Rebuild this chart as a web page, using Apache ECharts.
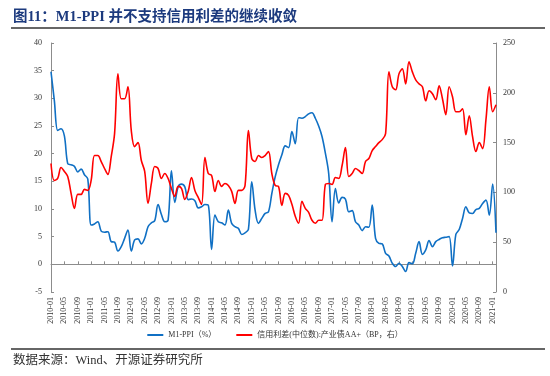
<!DOCTYPE html>
<html>
<head>
<meta charset="utf-8">
<script src="https://cdn.jsdelivr.net/npm/echarts@6/dist/echarts.min.js"></script>
<style>
  html, body {margin: 0; padding: 0; background: #fff;}
  #chart {width: 550px; height: 376px;}
</style>
</head>
<body>
<div id="chart"></div>
<script>
// months 2010-01 .. 2021-02
const months = [];
for (let y = 2010; y <= 2021; y++) {
  for (let m = 1; m <= 12; m++) {
    if (y === 2021 && m > 2) break;
    months.push(y + '-' + (m < 10 ? '0' + m : m));
  }
}

// M1-PPI (%), left axis
const m1ppi = [
  34.8, 29.6, 24.2, 24.5, 23.2, 18.2, 18.0, 17.7, 16.7, 17.2, 16.2, 15.4,
  7.1, 7.3, 7.7, 6.0, 5.8, 5.9, 4.1, 4.0, 2.4, 3.2, 4.7, 6.2,
  2.4, 4.4, 4.6, 3.7, 4.7, 6.8, 7.5, 7.9, 10.8, 9.0, 7.7, 8.0,
  16.9, 11.2, 14.0, 14.5, 14.0, 11.7, 11.8, 11.5, 10.2, 10.4, 10.8, 10.7,
  2.7, 8.9, 7.7, 7.5, 7.1, 9.8, 7.4, 6.8, 6.5, 5.4, 5.7, 6.3,
  14.9, 9.8, 7.4, 8.3, 9.2, 9.5, 12.8, 15.8, 18.0, 19.8, 21.4, 21.1,
  24.0, 21.8, 26.5, 26.4, 26.7, 27.2, 27.4, 26.4, 25.0, 23.1, 20.1, 16.4,
  7.7, 13.7, 11.1, 12.1, 11.8, 9.5, 9.7, 7.7, 7.1, 6.1, 6.8, 6.7,
  10.7, 4.7, 3.8, 3.7, 2.0, 1.5, 0.2, -0.4, 0.2, -0.4, -1.3, 0.3,
  0.1, 2.0, 4.1, 1.8, 2.6, 4.3, 3.2, 4.1, 4.5, 4.8, 4.9, 5.0,
  -0.3, 5.4, 6.3, 8.3, 10.4, 9.3, 9.2, 9.9, 10.1, 11.0, 11.6, 8.9,
  14.5, 5.7
];

// 信用利差(中位数):产业债AA+ (BP), right axis
const spread = [
  129, 112, 114, 125, 121, 116, 99, 84, 98, 98, 103, 102,
  112, 137, 137, 131, 124, 118, 136, 159, 219, 194, 194, 206,
  162, 146, 150, 132, 121, 89, 109, 126, 124, 114, 119, 114,
  104, 96, 106, 104, 93, 101, 115, 102, 95, 88, 135, 119,
  117, 101, 112, 106, 109, 107, 101, 89, 102, 102, 107, 162,
  134, 131, 137, 135, 137, 141, 119, 107, 106, 87, 99, 97,
  88, 76, 69, 91, 84, 80, 72, 69, 72, 72, 108, 109,
  108, 115, 114, 127, 145, 116, 119, 124, 122, 119, 131, 134,
  142, 146, 150, 153, 159, 221, 206, 203, 219, 224, 209, 231,
  221, 213, 209, 206, 192, 202, 199, 193, 207, 194, 178, 206,
  196, 181, 181, 184, 158, 177, 156, 141, 150, 144, 173, 206,
  181, 188
];

const leftTicks = {min: -5, max: 40, interval: 5};
const rightTicks = {min: 0, max: 250, interval: 50};

const serif = "'Liberation Serif', 'Times New Roman', 'Noto Sans CJK SC', serif";
const axisGray = '#8c8c8c';
const textGray = '#333';

const chart = echarts.init(document.getElementById('chart'));
chart.setOption({
  animation: false,
  title: {
    text: '图11：M1-PPI 并不支持信用利差的继续收敛',
    left: 8,
    top: 5,
    textStyle: {color: '#1c3a7e', fontSize: 14.5, fontWeight: 'bold', fontFamily: serif}
  },
  graphic: [
    {type: 'line', shape: {x1: 11, y1: 28, x2: 545, y2: 28}, style: {stroke: '#333', lineWidth: 1.5}},
    {type: 'line', shape: {x1: 11, y1: 349, x2: 545, y2: 349}, style: {stroke: '#333', lineWidth: 1.5}},
    {
      type: 'text', left: 13, top: 354,
      style: {text: '数据来源：Wind、开源证券研究所', fill: '#333', fontSize: 12.5, fontFamily: serif}
    }
  ],
  legend: {
    bottom: 32,
    left: 'center',
    icon: 'rect',
    itemWidth: 16,
    itemHeight: 2,
    itemGap: 20,
    textStyle: {fontSize: 8, color: textGray, fontFamily: serif},
    data: ['M1-PPI（%）', '信用利差(中位数):产业债AA+（BP，右）']
  },
  grid: {left: 51, right: 54, top: 43, bottom: 84},
  xAxis: [
    {
      type: 'category',
      data: months,
      boundaryGap: false,
      position: 'bottom',
      axisLine: {show: false, onZero: false},
      axisTick: {show: false},
      axisLabel: {
        interval: 3, rotate: 90, fontSize: 8, color: textGray, fontFamily: serif, margin: 5
      }
    },
    {
      type: 'category',
      data: months,
      boundaryGap: false,
      position: 'top',
      axisLine: {show: true, onZero: true, onZeroAxisIndex: 0, lineStyle: {color: axisGray, width: 1}},
      axisTick: {show: true, interval: 3, length: 3, lineStyle: {color: axisGray}},
      axisLabel: {show: false}
    }
  ],
  yAxis: [
    {
      type: 'value',
      ...leftTicks,
      position: 'left',
      splitLine: {show: false},
      axisLine: {show: true, lineStyle: {color: axisGray}},
      axisTick: {show: true, inside: true, length: 3, lineStyle: {color: axisGray}},
      axisLabel: {fontSize: 8, color: textGray, fontFamily: serif, margin: 9}
    },
    {
      type: 'value',
      ...rightTicks,
      position: 'right',
      splitLine: {show: false},
      axisLine: {show: true, lineStyle: {color: axisGray}},
      axisTick: {show: true, inside: true, length: 3, lineStyle: {color: axisGray}},
      axisLabel: {fontSize: 8, color: textGray, fontFamily: serif, margin: 7}
    }
  ],
  series: [
    {
      name: 'M1-PPI（%）',
      type: 'line',
      data: m1ppi,
      yAxisIndex: 0,
      color: '#1070c4'
    },
    {
      name: '信用利差(中位数):产业债AA+（BP，右）',
      type: 'line',
      data: spread,
      yAxisIndex: 1,
      color: '#ff0000'
    }
  ].map(s => ({
    ...s,
    xAxisIndex: 0,
    smooth: 0.35,
    symbol: 'none',
    lineStyle: {width: 1.6}
  }))
});
</script>
</body>
</html>
